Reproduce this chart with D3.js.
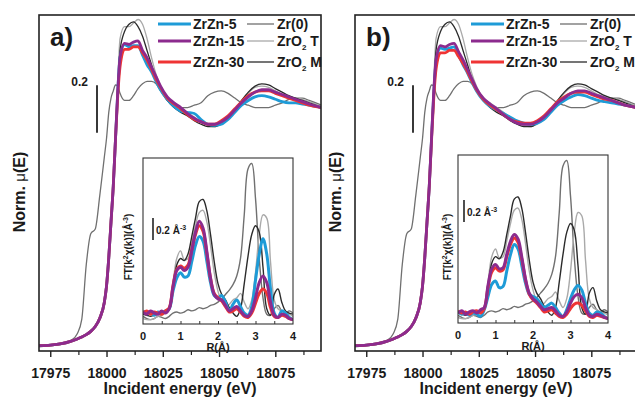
<!DOCTYPE html>
<html><head><meta charset="utf-8">
<script src="https://cdn.jsdelivr.net/npm/d3@7"></script>
<style>
body{margin:0;background:#fff}
svg text{font-family:"Liberation Sans",Arial,sans-serif;font-weight:bold;fill:#1a1a1a}
</style>
</head><body><svg id="c" width="635" height="400"></svg>
<script>
// ---------- XANES data (incident energy, eV) ----------
const energy = [17970,17975,17980,17984,17987,17989,17991,17993,17995,17997,17999,18000,18001,18002,18003,18004,18005,18006,18008,18010,18012,18014,18016,18018,18020,18022,18024,18027,18030,18033,18036,18039,18042,18045,18048,18051,18054,18057,18060,18063,18066,18069,18072,18075,18078,18081,18084,18087,18090,18095.5];
const xanesZr0 = [0.005,0.01,0.015,0.03,0.06,0.12,0.35,0.48,0.50,0.64,0.80,0.88,0.99,1.05,1.08,1.105,1.10,1.07,1.04,1.04,1.06,1.09,1.11,1.12,1.12,1.11,1.08,1.04,1.02,1.01,1.01,1.02,1.03,1.06,1.075,1.08,1.07,1.05,1.03,1.02,1.01,1.01,1.01,1.02,1.03,1.045,1.05,1.05,1.04,1.02];
const xanesZrO2T = [0.01,0.012,0.018,0.028,0.038,0.046,0.056,0.07,0.09,0.125,0.19,0.26,0.38,0.53,0.68,0.90,1.12,1.30,1.35,1.35,1.365,1.38,1.36,1.30,1.22,1.15,1.10,1.05,1.03,1.01,0.99,0.97,0.95,0.935,0.93,0.94,0.965,1.00,1.035,1.07,1.095,1.10,1.095,1.08,1.065,1.055,1.05,1.045,1.035,1.015];
const xanesZrO2M = [0.01,0.012,0.018,0.028,0.038,0.046,0.056,0.07,0.09,0.125,0.19,0.26,0.38,0.53,0.68,0.88,1.08,1.25,1.33,1.36,1.37,1.35,1.31,1.25,1.19,1.13,1.09,1.04,1.01,0.99,0.975,0.955,0.94,0.93,0.93,0.945,0.97,1.00,1.04,1.075,1.10,1.11,1.105,1.09,1.075,1.06,1.05,1.04,1.03,1.01];
const xanesA5 = [0.01,0.012,0.018,0.028,0.038,0.046,0.056,0.07,0.09,0.125,0.19,0.26,0.38,0.53,0.68,0.88,1.08,1.22,1.275,1.265,1.27,1.27,1.23,1.19,1.16,1.12,1.085,1.045,1.015,0.995,0.99,0.985,0.96,0.94,0.935,0.94,0.96,0.99,1.02,1.04,1.055,1.06,1.055,1.045,1.035,1.03,1.03,1.025,1.02,1.01];
const xanesA15 = [0.01,0.012,0.018,0.028,0.038,0.046,0.056,0.07,0.09,0.125,0.19,0.26,0.38,0.53,0.68,0.88,1.08,1.22,1.28,1.275,1.285,1.29,1.25,1.22,1.18,1.14,1.10,1.055,1.03,1.01,0.985,0.965,0.95,0.94,0.94,0.95,0.97,1.00,1.03,1.055,1.075,1.085,1.085,1.075,1.065,1.055,1.045,1.035,1.025,1.01];
const xanesA30 = [0.01,0.012,0.018,0.028,0.038,0.046,0.056,0.07,0.09,0.125,0.19,0.26,0.38,0.53,0.68,0.88,1.06,1.18,1.255,1.255,1.265,1.265,1.24,1.21,1.17,1.13,1.095,1.05,1.025,1.005,0.98,0.96,0.95,0.94,0.94,0.955,0.975,1.005,1.035,1.06,1.075,1.08,1.08,1.07,1.06,1.05,1.04,1.03,1.02,1.01];
const xanesB5 = [0.01,0.012,0.018,0.028,0.038,0.046,0.056,0.07,0.09,0.125,0.19,0.26,0.38,0.53,0.68,0.88,1.07,1.20,1.26,1.255,1.26,1.265,1.23,1.19,1.155,1.115,1.08,1.04,1.015,1.0,0.985,0.97,0.955,0.945,0.94,0.945,0.96,0.99,1.02,1.04,1.055,1.065,1.06,1.05,1.04,1.035,1.03,1.025,1.02,1.01];
const xanesB15 = [0.01,0.012,0.018,0.028,0.038,0.046,0.056,0.07,0.09,0.125,0.19,0.26,0.38,0.53,0.68,0.88,1.08,1.21,1.27,1.265,1.275,1.28,1.245,1.21,1.17,1.13,1.09,1.05,1.025,1.005,0.98,0.96,0.945,0.94,0.94,0.95,0.97,1.00,1.03,1.05,1.07,1.08,1.08,1.07,1.06,1.05,1.04,1.03,1.02,1.01];
const xanesB30 = [0.01,0.012,0.018,0.028,0.038,0.046,0.056,0.07,0.09,0.125,0.19,0.26,0.38,0.53,0.68,0.87,1.05,1.17,1.24,1.24,1.25,1.25,1.225,1.195,1.16,1.12,1.085,1.045,1.02,1.0,0.98,0.96,0.95,0.945,0.945,0.955,0.975,1.005,1.035,1.055,1.07,1.075,1.075,1.065,1.055,1.045,1.04,1.03,1.02,1.01];

// ---------- FT-EXAFS data (R, Å) ----------
const rGrid = [0,0.1,0.2,0.3,0.4,0.5,0.6,0.7,0.8,0.9,1.0,1.1,1.2,1.3,1.4,1.5,1.6,1.7,1.8,1.9,2.0,2.1,2.2,2.3,2.4,2.5,2.6,2.7,2.8,2.9,3.0,3.1,3.2,3.3,3.4,3.5,3.6,3.7,3.8,3.9,4.0];
const ftZr0 = [0.05,0.03,0.02,0.03,0.05,0.04,0.03,0.05,0.08,0.09,0.08,0.09,0.11,0.10,0.11,0.13,0.12,0.13,0.15,0.16,0.18,0.21,0.25,0.29,0.34,0.42,0.58,0.98,1.40,1.45,1.13,0.58,0.22,0.07,0.06,0.12,0.15,0.10,0.08,0.10,0.08];
const ftZrO2T = [0.03,0.02,0.02,0.03,0.05,0.06,0.08,0.12,0.35,0.58,0.65,0.57,0.58,0.72,0.88,1.00,1.02,0.92,0.70,0.45,0.28,0.18,0.14,0.16,0.20,0.22,0.26,0.18,0.12,0.20,0.45,0.80,0.98,0.95,0.55,0.20,0.12,0.10,0.08,0.07,0.05];
const ftZrO2M = [0.07,0.06,0.05,0.06,0.07,0.08,0.09,0.11,0.30,0.52,0.58,0.56,0.62,0.78,0.95,1.10,1.12,1.02,0.80,0.55,0.35,0.25,0.20,0.13,0.08,0.05,0.12,0.35,0.60,0.80,0.88,0.82,0.50,0.12,0.06,0.25,0.30,0.18,0.10,0.08,0.07];
const ftA5 = [0.10,0.08,0.09,0.06,0.09,0.08,0.10,0.12,0.28,0.40,0.45,0.41,0.42,0.55,0.70,0.78,0.74,0.56,0.36,0.24,0.22,0.24,0.18,0.10,0.16,0.20,0.14,0.08,0.06,0.14,0.38,0.62,0.76,0.62,0.30,0.08,0.04,0.10,0.08,0.04,0.02];
const ftA15 = [0.09,0.07,0.10,0.08,0.07,0.10,0.08,0.12,0.32,0.47,0.50,0.47,0.50,0.65,0.82,0.92,0.86,0.65,0.40,0.25,0.21,0.20,0.15,0.10,0.12,0.14,0.10,0.06,0.05,0.10,0.22,0.36,0.42,0.36,0.18,0.06,0.04,0.07,0.06,0.03,0.02];
const ftA30 = [0.08,0.10,0.07,0.09,0.08,0.07,0.10,0.13,0.33,0.48,0.51,0.49,0.52,0.66,0.80,0.88,0.83,0.63,0.40,0.26,0.22,0.19,0.14,0.09,0.10,0.12,0.09,0.05,0.04,0.08,0.17,0.26,0.30,0.26,0.13,0.05,0.04,0.06,0.05,0.03,0.02];
const ftB5 = [0.08,0.06,0.07,0.05,0.07,0.06,0.04,0.10,0.22,0.33,0.36,0.30,0.31,0.45,0.60,0.69,0.65,0.50,0.34,0.24,0.22,0.20,0.16,0.12,0.14,0.16,0.12,0.07,0.04,0.10,0.20,0.28,0.32,0.28,0.16,0.07,0.05,0.08,0.07,0.04,0.02];
const ftB15 = [0.07,0.09,0.06,0.08,0.09,0.07,0.10,0.12,0.32,0.47,0.51,0.47,0.48,0.60,0.72,0.78,0.74,0.58,0.38,0.25,0.20,0.17,0.13,0.10,0.11,0.12,0.09,0.05,0.04,0.08,0.16,0.22,0.24,0.21,0.12,0.05,0.04,0.06,0.05,0.03,0.02];
const ftB30 = [0.09,0.07,0.08,0.06,0.08,0.09,0.07,0.11,0.30,0.44,0.48,0.45,0.46,0.58,0.69,0.75,0.71,0.56,0.37,0.24,0.19,0.16,0.12,0.08,0.09,0.10,0.07,0.04,0.03,0.06,0.11,0.15,0.16,0.14,0.09,0.04,0.03,0.05,0.04,0.03,0.02];

const energyTicks = [17975,18000,18025,18050,18075];
const rTicks = [0,1,2,3,4];
const sampleNames = ["ZrZn-5","ZrZn-15","ZrZn-30"];
const refNames = [["Zr(0)",""],["ZrO","T"],["ZrO","M"]];

const colors = {s5:"#1e9bd7", s15:"#8c2b8e", s30:"#ef3434", zr0:"#707070", t:"#a9a9a9", m:"#2b2b2b"};

const svg = d3.select("#c");
const defs = svg.append("defs");

const panels = [
  {id:"a", label:"a)", x0:39, x1:321, s:[xanesA5,xanesA15,xanesA30], ft:[ftA5,ftA15,ftA30], ins:{x0:143,x1:293,y0:158,y1:324}, ftlab:128, bar:{x:153,y0:218,y1:240,ty:234}, lgShift:0},
  {id:"b", label:"b)", x0:355, x1:637, s:[xanesB5,xanesB15,xanesB30], ft:[ftB5,ftB15,ftB30], ins:{x0:458,x1:608,y0:155,y1:323}, ftlab:447, bar:{x:464,y0:200,y1:222,ty:216}, lgShift:-3}
];
const plotTop = 15, plotBottom = 351;

panels.forEach(p => {
  const g = svg.append("g");
  const x = d3.scaleLinear().domain([17970, 18095.3]).range([p.x0, p.x1]);
  const y = d3.scaleLinear().domain([-0.0126, 1.399]).range([plotBottom, plotTop]);
  defs.append("clipPath").attr("id","clip"+p.id).append("rect")
    .attr("x",p.x0).attr("y",plotTop).attr("width",p.x1-p.x0).attr("height",plotBottom-plotTop);
  const line = d3.line().x((d,i)=>x(energy[i])).y(d=>y(d)).curve(d3.curveMonotoneX);
  const cg = g.append("g").attr("clip-path","url(#clip"+p.id+")");
  [[xanesZr0,colors.zr0],[xanesZrO2T,colors.t],[xanesZrO2M,colors.m]].forEach(([d,c])=>{
    cg.append("path").attr("d",line(d)).attr("fill","none").attr("stroke",c).attr("stroke-width",1.3);
  });
  [[p.s[0],colors.s5],[p.s[2],colors.s30],[p.s[1],colors.s15]].forEach(([d,c])=>{
    cg.append("path").attr("d",line(d)).attr("fill","none").attr("stroke",c).attr("stroke-width",2.8);
  });
  g.append("rect").attr("x",p.x0).attr("y",plotTop).attr("width",p.x1-p.x0).attr("height",plotBottom-plotTop)
    .attr("fill","none").attr("stroke","#222").attr("stroke-width",1.6);
  const ax = g.append("g").attr("transform",`translate(0,${plotBottom})`)
    .call(d3.axisBottom(x).tickValues(energyTicks).tickSize(6).tickFormat(d3.format("d")).tickPadding(4));
  ax.select(".domain").remove();
  ax.selectAll("line").attr("stroke","#222").attr("stroke-width",1.4);
  ax.selectAll("text").attr("font-size",14).attr("fill","#1a1a1a").attr("dy",null).attr("y",27).style("font-family",'"Liberation Sans",Arial,sans-serif').style("font-weight","bold");
  const minor = g.append("g").attr("transform",`translate(0,${plotBottom})`)
    .call(d3.axisBottom(x).tickValues(energyTicks.map(v=>v+12.5).filter(v=>v<18095)).tickSize(4).tickFormat(""));
  minor.select(".domain").remove();
  minor.selectAll("line").attr("stroke","#222").attr("stroke-width",1.2);
  g.append("text").attr("x",(p.x0+p.x1)/2).attr("y",394).attr("text-anchor","middle").attr("font-size",16).text("Incident energy (eV)");
  const yl = g.append("text").attr("transform",`translate(${p.x0-14},192) rotate(-90)`).attr("text-anchor","middle").attr("font-size",16);
  yl.append("tspan").text("Norm. ");
  yl.append("tspan").style("font-weight","normal").attr("font-size",15).text("\u03bc");
  yl.append("tspan").text("(E)");
  g.append("text").attr("x",p.x0+11).attr("y",46).attr("font-size",26).text(p.label);
  const bx = p.x0+58;
  g.append("line").attr("x1",bx).attr("x2",bx).attr("y1",y(1.0)-(y(0)-y(0.2))/2-1).attr("y2",y(1.0)+(y(0)-y(0.2))/2-1)
    .attr("stroke","#222").attr("stroke-width",1.8);
  g.append("text").attr("x",bx-9).attr("y",86).attr("text-anchor","end").attr("font-size",12).text("0.2");
  const lg = g.append("g");
  const rows = [24,41,62];
  const L = p.x0 + p.lgShift;
  sampleNames.forEach((n,i)=>{
    const c = [colors.s5,colors.s15,colors.s30][i];
    lg.append("line").attr("x1",L+119).attr("x2",L+152).attr("y1",rows[i]).attr("y2",rows[i]).attr("stroke",c).attr("stroke-width",3);
    lg.append("text").attr("x",L+154).attr("y",rows[i]+5).attr("font-size",14).text(n);
    const rc = [colors.zr0,colors.t,colors.m][i];
    lg.append("line").attr("x1",L+208).attr("x2",L+235).attr("y1",rows[i]).attr("y2",rows[i]).attr("stroke",rc).attr("stroke-width",1.3);
    const t = lg.append("text").attr("x",L+238).attr("y",rows[i]+5).attr("font-size",14);
    if(i===0){ t.text(refNames[0][0]); }
    else {
      t.append("tspan").text(refNames[i][0]);
      t.append("tspan").attr("font-size",8).attr("dy",4).text("2");
      t.append("tspan").attr("dy",-4).text(" "+refNames[i][1]);
    }
  });

  // ---------- inset ----------
  const I = p.ins;
  const rx = d3.scaleLinear().domain([0,4]).range([I.x0,I.x1]);
  const ry = d3.scaleLinear().domain([-0.02,1.5]).range([I.y1,I.y0]);
  g.append("rect").attr("x",I.x0).attr("y",I.y0).attr("width",I.x1-I.x0).attr("height",I.y1-I.y0).attr("fill","#fff");
  defs.append("clipPath").attr("id","iclip"+p.id).append("rect")
    .attr("x",I.x0).attr("y",I.y0).attr("width",I.x1-I.x0).attr("height",I.y1-I.y0);
  const il = d3.line().x((d,i)=>rx(rGrid[i])).y(d=>ry(d)).curve(d3.curveCatmullRom.alpha(0.5));
  const ig = g.append("g").attr("clip-path","url(#iclip"+p.id+")");
  [[ftZr0,colors.zr0],[ftZrO2T,colors.t],[ftZrO2M,colors.m]].forEach(([d,c])=>{
    ig.append("path").attr("d",il(d)).attr("fill","none").attr("stroke",c).attr("stroke-width",1.4);
  });
  [[p.ft[0],colors.s5],[p.ft[2],colors.s30],[p.ft[1],colors.s15]].forEach(([d,c])=>{
    ig.append("path").attr("d",il(d)).attr("fill","none").attr("stroke",c).attr("stroke-width",3);
  });
  g.append("rect").attr("x",I.x0).attr("y",I.y0).attr("width",I.x1-I.x0).attr("height",I.y1-I.y0)
    .attr("fill","none").attr("stroke","#333").attr("stroke-width",1.1);
  const iax = g.append("g").attr("transform",`translate(0,${I.y1})`)
    .call(d3.axisBottom(rx).tickValues([0.5,1,1.5,2,2.5,3,3.5]).tickSize(-3).tickFormat(""));
  iax.select(".domain").remove();
  iax.selectAll("line").attr("stroke","#333");
  rTicks.forEach(v=>{
    g.append("text").attr("x",rx(v)).attr("y",I.y1+16).attr("text-anchor","middle").attr("font-size",11).text(v);
  });
  g.append("text").attr("x",(I.x0+I.x1)/2).attr("y",I.y1+27).attr("text-anchor","middle").attr("font-size",11).text("R(\u00c5)");
  const fl = g.append("text").attr("transform",`translate(${p.ftlab+4},247) rotate(-90)`).attr("text-anchor","middle").attr("font-size",10);
  fl.append("tspan").text("FT[k");
  fl.append("tspan").attr("font-size",7).attr("dy",-4).text("2");
  fl.append("tspan").attr("dy",4).text("\u03c7(k)](\u00c5");
  fl.append("tspan").attr("font-size",7).attr("dy",-4).text("-3");
  fl.append("tspan").attr("dy",4).text(")");
  g.append("line").attr("x1",p.bar.x).attr("x2",p.bar.x).attr("y1",p.bar.y0).attr("y2",p.bar.y1).attr("stroke","#222").attr("stroke-width",1.6);
  const bt = g.append("text").attr("x",p.bar.x+3).attr("y",p.bar.ty).attr("font-size",10);
  bt.append("tspan").text("0.2 \u00c5");
  bt.append("tspan").attr("font-size",7).attr("dy",-4).text("-3");
});
</script></body></html>
